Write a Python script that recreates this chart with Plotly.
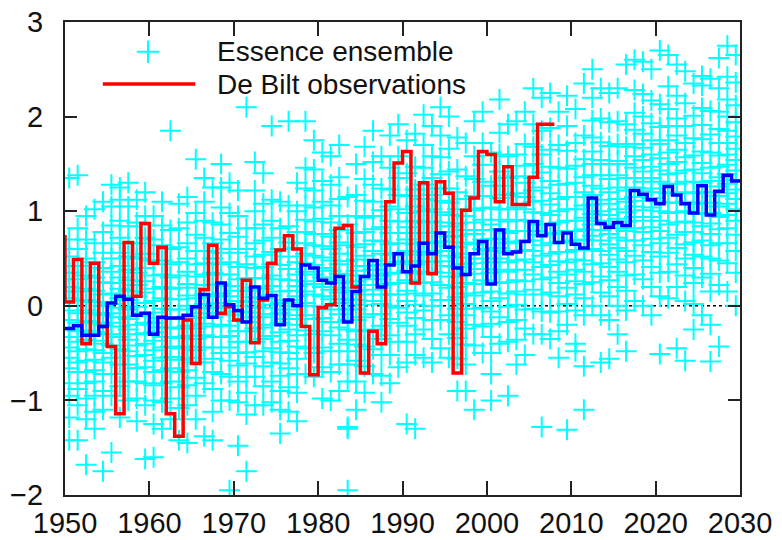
import plotly.graph_objects as go

# ---------------- data ----------------
obs_years = list(range(1949, 2008))
obs_values = [0.73, 0.04, 0.49, -0.40, 0.45, -0.22, -0.43, -1.14, 0.67, 0.10,
              0.87, 0.45, 0.62, -1.14, -1.38, -0.15, -0.61, 0.17, 0.64, -0.08,
              -0.01, -0.15, 0.27, -0.39, 0.06, 0.45, 0.59, 0.74, 0.60, -0.22,
              -0.73, -0.02, 0.01, 0.82, 0.85, 0.20, -0.71, -0.27, -0.40, 1.10,
              1.51, 1.63, 0.24, 1.30, 0.34, 1.31, 1.19, -0.71, 1.01, 1.14,
              1.63, 1.60, 1.10, 1.47, 1.07, 1.07, 1.36, 1.92, 1.92]

mean_years = list(range(1950, 2030))
mean_values = [-0.24, -0.21, -0.31, -0.31, -0.22, 0.03, 0.10, 0.07, -0.10, -0.08,
               -0.30, -0.12, -0.13, -0.13, -0.10, -0.01, 0.12, -0.12, 0.24, 0.01,
               -0.05, -0.17, 0.20, 0.08, 0.11, -0.20, 0.06, 0.00, 0.43, 0.40,
               0.27, 0.24, 0.31, -0.17, 0.15, 0.31, 0.48, 0.20, 0.43, 0.55,
               0.36, 0.42, 0.66, 0.55, 0.77, 0.62, 0.40, 0.33, 0.55, 0.68,
               0.23, 0.80, 0.55, 0.57, 0.68, 0.89, 0.74, 0.86, 0.67, 0.77,
               0.65, 0.61, 1.14, 0.87, 0.83, 0.88, 0.85, 1.22, 1.18, 1.12,
               1.08, 1.26, 1.17, 1.08, 0.98, 1.27, 0.96, 1.21, 1.38, 1.32]

ens_1950s = [
    [-1.42, -1.18, -0.95, -0.82, -0.66, -0.55, -0.44, -0.33, -0.25, -0.15, -0.05, 0.08, 0.2, 0.35, 0.52, 0.7, 1.35],
    [-1.42, -1.05, -0.88, -0.7, -0.6, -0.48, -0.38, -0.27, -0.18, -0.08, 0.05, 0.15, 0.28, 0.42, 0.6, 0.82, 1.38],
    [-1.68, -1.2, -0.98, -0.82, -0.7, -0.58, -0.46, -0.36, -0.26, -0.16, -0.05, 0.06, 0.18, 0.32, 0.5, 0.7, 0.95],
    [-1.3, -1.12, -0.95, -0.8, -0.68, -0.57, -0.47, -0.37, -0.28, -0.18, -0.08, 0.04, 0.16, 0.3, 0.46, 0.66, 1.02],
    [-1.75, -1.1, -0.9, -0.72, -0.6, -0.5, -0.4, -0.3, -0.2, -0.1, 0.0, 0.12, 0.25, 0.4, 0.56, 0.78, 1.1],
    [-1.55, -0.95, -0.72, -0.55, -0.42, -0.3, -0.18, -0.08, 0.02, 0.13, 0.24, 0.36, 0.5, 0.66, 0.85, 1.05, 1.28],
    [-1.18, -0.85, -0.62, -0.46, -0.33, -0.22, -0.12, -0.02, 0.08, 0.18, 0.3, 0.42, 0.56, 0.72, 0.9, 1.12, 1.25],
    [-1.0, -0.8, -0.62, -0.48, -0.36, -0.25, -0.14, -0.04, 0.06, 0.16, 0.27, 0.38, 0.52, 0.66, 0.84, 1.05, 1.3],
    [-1.22, -0.98, -0.8, -0.66, -0.53, -0.42, -0.3, -0.2, -0.11, -0.01, 0.1, 0.22, 0.35, 0.5, 0.66, 0.88, 1.12],
    [-1.62, -1.05, -0.82, -0.65, -0.52, -0.4, -0.29, -0.18, -0.08, 0.03, 0.14, 0.26, 0.4, 0.55, 0.72, 0.95, 1.2],
]
ens_1960s = [
    [-1.6, -1.25, -1.0, -0.84, -0.7, -0.58, -0.47, -0.37, -0.28, -0.18, -0.07, 0.05, 0.18, 0.32, 0.48, 0.7, 0.95],
    [-1.3, -1.02, -0.82, -0.68, -0.55, -0.44, -0.33, -0.23, -0.13, -0.03, 0.08, 0.2, 0.33, 0.48, 0.64, 0.85, 1.1],
    [-1.2, -0.98, -0.8, -0.66, -0.54, -0.43, -0.33, -0.23, -0.14, -0.04, 0.07, 0.18, 0.3, 0.44, 0.6, 0.8, 1.85],
    [-1.42, -1.08, -0.86, -0.7, -0.57, -0.45, -0.34, -0.24, -0.14, -0.04, 0.07, 0.19, 0.32, 0.46, 0.62, 0.82, 1.08],
    [-1.45, -1.05, -0.84, -0.68, -0.55, -0.43, -0.32, -0.21, -0.11, 0.0, 0.11, 0.23, 0.36, 0.5, 0.66, 0.88, 1.15],
    [-1.2, -0.95, -0.76, -0.6, -0.47, -0.35, -0.24, -0.13, -0.03, 0.08, 0.19, 0.31, 0.44, 0.58, 0.75, 0.98, 1.55],
    [-1.38, -0.82, -0.6, -0.44, -0.31, -0.19, -0.08, 0.02, 0.12, 0.22, 0.33, 0.45, 0.58, 0.72, 0.9, 1.1, 1.35],
    [-1.42, -1.12, -0.88, -0.7, -0.56, -0.44, -0.33, -0.22, -0.12, -0.02, 0.1, 0.22, 0.35, 0.5, 0.66, 0.88, 1.25],
    [-1.0, -0.72, -0.5, -0.33, -0.2, -0.08, 0.03, 0.13, 0.23, 0.33, 0.44, 0.56, 0.7, 0.86, 1.04, 1.25, 1.5],
    [-1.95, -1.0, -0.75, -0.58, -0.44, -0.32, -0.21, -0.1, 0.0, 0.1, 0.21, 0.33, 0.46, 0.6, 0.77, 0.98, 1.3],
]
ens_1970s = [
    [-1.48, -1.02, -0.8, -0.63, -0.5, -0.38, -0.27, -0.16, -0.06, 0.05, 0.16, 0.28, 0.41, 0.56, 0.73, 0.95, 1.22],
    [-1.75, -1.15, -0.92, -0.75, -0.61, -0.49, -0.38, -0.27, -0.17, -0.07, 0.04, 0.16, 0.29, 0.44, 0.6, 0.82, 2.1],
    [-1.05, -0.75, -0.54, -0.38, -0.24, -0.12, -0.01, 0.09, 0.19, 0.29, 0.4, 0.52, 0.66, 0.82, 1.0, 1.22, 1.52],
    [-1.05, -0.85, -0.64, -0.48, -0.35, -0.23, -0.12, -0.02, 0.08, 0.18, 0.29, 0.41, 0.54, 0.69, 0.86, 1.08, 1.4],
    [-1.02, -0.8, -0.6, -0.45, -0.32, -0.2, -0.09, 0.01, 0.11, 0.21, 0.32, 0.44, 0.57, 0.72, 0.9, 1.12, 1.9],
    [-1.35, -1.1, -0.9, -0.74, -0.61, -0.49, -0.38, -0.28, -0.18, -0.08, 0.03, 0.15, 0.28, 0.43, 0.6, 0.82, 1.1],
    [-1.12, -0.86, -0.66, -0.5, -0.37, -0.25, -0.14, -0.04, 0.06, 0.16, 0.27, 0.39, 0.52, 0.67, 0.84, 1.06, 1.95],
    [-1.22, -0.92, -0.72, -0.56, -0.43, -0.31, -0.2, -0.1, 0.0, 0.1, 0.21, 0.33, 0.46, 0.61, 0.78, 1.0, 1.3],
    [-0.72, -0.45, -0.26, -0.1, 0.03, 0.15, 0.26, 0.36, 0.45, 0.55, 0.66, 0.78, 0.91, 1.06, 1.24, 1.46, 1.95],
    [-0.75, -0.5, -0.3, -0.14, 0.0, 0.12, 0.23, 0.33, 0.43, 0.53, 0.64, 0.76, 0.89, 1.04, 1.22, 1.44, 1.75],
]
ens_1980s = [
    [-0.98, -0.65, -0.44, -0.27, -0.13, -0.01, 0.1, 0.2, 0.3, 0.4, 0.51, 0.63, 0.76, 0.92, 1.1, 1.32, 1.62],
    [-1.0, -0.7, -0.48, -0.31, -0.17, -0.04, 0.07, 0.17, 0.27, 0.37, 0.48, 0.6, 0.73, 0.88, 1.06, 1.28, 1.58],
    [-0.9, -0.62, -0.4, -0.23, -0.09, 0.03, 0.14, 0.24, 0.34, 0.44, 0.55, 0.67, 0.8, 0.95, 1.13, 1.36, 1.7],
    [-1.95, -1.3, -1.28, -0.8, -0.62, -0.48, -0.36, -0.25, -0.15, -0.04, 0.07, 0.19, 0.32, 0.47, 0.64, 0.86, 1.15],
    [-1.1, -0.8, -0.58, -0.41, -0.27, -0.15, -0.04, 0.06, 0.16, 0.26, 0.37, 0.49, 0.62, 0.77, 0.95, 1.17, 1.5],
    [-0.92, -0.64, -0.43, -0.26, -0.12, 0.01, 0.12, 0.22, 0.32, 0.42, 0.53, 0.65, 0.78, 0.93, 1.11, 1.34, 1.68],
    [-0.72, -0.46, -0.25, -0.09, 0.05, 0.17, 0.28, 0.38, 0.48, 0.58, 0.69, 0.81, 0.95, 1.1, 1.28, 1.52, 1.85],
    [-1.02, -0.74, -0.52, -0.35, -0.21, -0.09, 0.02, 0.12, 0.22, 0.32, 0.43, 0.55, 0.68, 0.83, 1.01, 1.24, 1.58],
    [-0.82, -0.52, -0.31, -0.14, 0.0, 0.12, 0.23, 0.34, 0.44, 0.54, 0.65, 0.77, 0.9, 1.05, 1.23, 1.46, 1.8],
    [-0.65, -0.38, -0.18, -0.02, 0.12, 0.24, 0.35, 0.46, 0.56, 0.66, 0.77, 0.89, 1.02, 1.17, 1.35, 1.58, 1.92],
]
ens_1990s = [
    [-1.25, -0.6, -0.38, -0.21, -0.07, 0.05, 0.16, 0.27, 0.37, 0.47, 0.58, 0.7, 0.83, 0.98, 1.16, 1.4, 1.75],
    [-1.3, -0.52, -0.3, -0.13, 0.01, 0.13, 0.24, 0.34, 0.44, 0.54, 0.65, 0.77, 0.9, 1.05, 1.23, 1.47, 1.82],
    [-0.55, -0.25, -0.05, 0.11, 0.24, 0.36, 0.47, 0.57, 0.67, 0.77, 0.88, 1.0, 1.13, 1.28, 1.46, 1.7, 2.02],
    [-0.6, -0.35, -0.15, 0.0, 0.13, 0.25, 0.36, 0.46, 0.56, 0.66, 0.77, 0.89, 1.02, 1.17, 1.35, 1.58, 1.9],
    [-0.45, -0.15, 0.06, 0.22, 0.35, 0.47, 0.58, 0.68, 0.78, 0.88, 0.99, 1.11, 1.24, 1.39, 1.57, 1.8, 2.1],
    [-0.55, -0.3, -0.1, 0.06, 0.19, 0.31, 0.42, 0.53, 0.63, 0.73, 0.84, 0.96, 1.09, 1.24, 1.42, 1.66, 2.0],
    [-0.9, -0.56, -0.34, -0.17, -0.03, 0.09, 0.2, 0.31, 0.41, 0.51, 0.62, 0.74, 0.87, 1.02, 1.2, 1.44, 1.78],
    [-0.9, -0.62, -0.41, -0.24, -0.1, 0.02, 0.13, 0.24, 0.34, 0.44, 0.55, 0.67, 0.8, 0.95, 1.13, 1.37, 1.72],
    [-1.1, -0.42, -0.2, -0.03, 0.11, 0.23, 0.34, 0.45, 0.55, 0.65, 0.76, 0.88, 1.01, 1.16, 1.34, 1.58, 1.95],
    [-0.5, -0.22, -0.02, 0.14, 0.27, 0.39, 0.5, 0.6, 0.7, 0.8, 0.91, 1.03, 1.16, 1.31, 1.49, 1.72, 2.05],
]
ens_2000s = [
    [-1.0, -0.72, -0.5, -0.33, -0.19, -0.06, 0.05, 0.15, 0.25, 0.35, 0.46, 0.58, 0.71, 0.86, 1.04, 1.27, 1.62],
    [-0.4, -0.12, 0.08, 0.24, 0.38, 0.5, 0.61, 0.71, 0.81, 0.91, 1.02, 1.14, 1.27, 1.42, 1.6, 1.83, 2.18],
    [-0.95, -0.38, -0.17, -0.01, 0.13, 0.25, 0.36, 0.46, 0.56, 0.66, 0.77, 0.89, 1.02, 1.17, 1.35, 1.58, 1.92],
    [-0.62, -0.36, -0.15, 0.01, 0.15, 0.27, 0.38, 0.48, 0.58, 0.68, 0.79, 0.91, 1.04, 1.19, 1.37, 1.6, 1.95],
    [-0.52, -0.24, -0.04, 0.12, 0.26, 0.38, 0.49, 0.59, 0.69, 0.79, 0.9, 1.02, 1.15, 1.3, 1.48, 1.71, 2.05],
    [-0.3, -0.03, 0.17, 0.33, 0.46, 0.58, 0.69, 0.79, 0.89, 0.99, 1.1, 1.22, 1.35, 1.5, 1.68, 1.92, 2.3],
    [-1.28, -0.3, -0.06, 0.12, 0.28, 0.41, 0.53, 0.64, 0.75, 0.86, 0.98, 1.11, 1.25, 1.41, 1.6, 1.85, 2.2],
    [-0.35, -0.07, 0.14, 0.3, 0.43, 0.55, 0.66, 0.76, 0.86, 0.96, 1.07, 1.19, 1.32, 1.47, 1.65, 1.88, 2.25],
    [-0.55, -0.27, -0.06, 0.1, 0.24, 0.36, 0.47, 0.57, 0.67, 0.77, 0.88, 1.0, 1.13, 1.28, 1.46, 1.7, 2.05],
    [-1.31, -0.2, 0.02, 0.19, 0.33, 0.46, 0.57, 0.68, 0.79, 0.9, 1.02, 1.15, 1.29, 1.45, 1.64, 1.9, 2.22],
]
ens_2010s = [
    [-0.48, -0.4, -0.05, 0.12, 0.26, 0.38, 0.49, 0.59, 0.69, 0.79, 0.9, 1.02, 1.15, 1.3, 1.48, 1.72, 2.08],
    [-1.1, -0.64, -0.1, 0.08, 0.23, 0.36, 0.48, 0.59, 0.7, 0.81, 0.93, 1.06, 1.2, 1.36, 1.55, 1.8, 2.35],
    [0.0, 0.25, 0.44, 0.6, 0.74, 0.86, 0.97, 1.07, 1.17, 1.27, 1.38, 1.5, 1.63, 1.78, 1.96, 2.2, 2.5],
    [-0.6, -0.1, 0.14, 0.31, 0.45, 0.58, 0.69, 0.8, 0.9, 1.0, 1.12, 1.24, 1.38, 1.54, 1.73, 1.98, 2.3],
    [-0.56, -0.15, 0.1, 0.27, 0.41, 0.54, 0.65, 0.76, 0.86, 0.96, 1.08, 1.2, 1.34, 1.5, 1.69, 1.94, 2.25],
    [-0.3, 0.0, 0.2, 0.36, 0.49, 0.61, 0.72, 0.82, 0.92, 1.02, 1.13, 1.25, 1.38, 1.53, 1.71, 1.95, 2.3],
    [-0.48, -0.05, 0.16, 0.32, 0.46, 0.58, 0.69, 0.79, 0.89, 0.99, 1.1, 1.22, 1.35, 1.5, 1.68, 1.92, 2.55],
    [0.05, 0.33, 0.53, 0.69, 0.82, 0.94, 1.05, 1.15, 1.25, 1.35, 1.46, 1.58, 1.71, 1.86, 2.04, 2.28, 2.6],
    [0.0, 0.28, 0.48, 0.64, 0.78, 0.9, 1.01, 1.11, 1.21, 1.31, 1.42, 1.54, 1.67, 1.82, 2.0, 2.24, 2.58],
    [-0.1, 0.2, 0.41, 0.57, 0.71, 0.83, 0.94, 1.04, 1.14, 1.24, 1.35, 1.47, 1.6, 1.75, 1.93, 2.17, 2.5],
]
ens_2020s = [
    [-0.51, 0.1, 0.35, 0.52, 0.66, 0.79, 0.9, 1.0, 1.1, 1.2, 1.31, 1.43, 1.56, 1.71, 1.89, 2.13, 2.7],
    [0.08, 0.36, 0.56, 0.72, 0.86, 0.98, 1.09, 1.19, 1.29, 1.39, 1.5, 1.62, 1.75, 1.9, 2.08, 2.32, 2.65],
    [-0.45, 0.2, 0.44, 0.61, 0.75, 0.88, 0.99, 1.09, 1.19, 1.29, 1.4, 1.52, 1.65, 1.8, 1.98, 2.22, 2.55],
    [-0.58, 0.05, 0.32, 0.5, 0.65, 0.78, 0.89, 1.0, 1.1, 1.2, 1.31, 1.43, 1.57, 1.72, 1.9, 2.14, 2.48],
    [-0.25, 0.02, 0.24, 0.4, 0.54, 0.67, 0.78, 0.88, 0.98, 1.08, 1.19, 1.31, 1.44, 1.59, 1.77, 2.01, 2.35],
    [-0.1, 0.3, 0.52, 0.69, 0.84, 0.97, 1.09, 1.2, 1.3, 1.4, 1.51, 1.63, 1.76, 1.91, 2.09, 2.33, 2.43],
    [-0.59, -0.2, 0.15, 0.34, 0.5, 0.64, 0.76, 0.87, 0.98, 1.09, 1.2, 1.32, 1.46, 1.62, 1.81, 2.06, 2.4],
    [-0.43, 0.22, 0.48, 0.66, 0.81, 0.94, 1.05, 1.16, 1.26, 1.36, 1.47, 1.59, 1.72, 1.87, 2.05, 2.3, 2.62],
    [0.15, 0.45, 0.66, 0.82, 0.96, 1.08, 1.19, 1.29, 1.39, 1.49, 1.6, 1.72, 1.85, 2.0, 2.18, 2.42, 2.75],
    [0.0, 0.35, 0.58, 0.75, 0.9, 1.02, 1.13, 1.23, 1.33, 1.43, 1.54, 1.66, 1.79, 1.94, 2.12, 2.36, 2.65],
]

x_ticks = [1950, 1960, 1970, 1980, 1990, 2000, 2010, 2020, 2030]
y_ticks = [-2, -1, 0, 1, 2, 3]
legend_labels = ["Essence ensemble", "De Bilt observations"]

# ---------------- build ----------------
ens_rows = ens_1950s + ens_1960s + ens_1970s + ens_1980s + ens_1990s + ens_2000s + ens_2010s + ens_2020s
ens_x, ens_y = [], []
for yr, row in zip(mean_years, ens_rows):
    for v in row:
        ens_x.append(yr + 0.5)
        ens_y.append(v)

FONT = "Liberation Sans, Arial, sans-serif"
CYAN = "#00ffff"

fig = go.Figure()

fig.add_trace(go.Scatter(
    x=ens_x, y=ens_y, mode="markers", name=legend_labels[0],
    marker=dict(symbol="cross-thin", size=15, color=CYAN,
                line=dict(color=CYAN, width=2)),
    showlegend=False, cliponaxis=True,
))

fig.add_trace(go.Scatter(
    x=obs_years + [obs_years[-1] + 1], y=obs_values + [obs_values[-1]],
    mode="lines", line=dict(color="#ff0000", width=3.5, shape="hv"),
    name=legend_labels[1], showlegend=False,
))

fig.add_trace(go.Scatter(
    x=mean_years + [mean_years[-1] + 1], y=mean_values + [mean_values[-1]],
    mode="lines", line=dict(color="#0000ff", width=3.5, shape="hv"),
    name="ensemble mean", showlegend=False,
))

# legend key (cross) drawn on an overlay paper-like axis
fig.add_trace(go.Scatter(
    x=[0.123], y=[0.937], xaxis="x2", yaxis="y2", mode="markers",
    marker=dict(symbol="cross-thin", size=16, color=CYAN, line=dict(color=CYAN, width=2)),
    showlegend=False, hoverinfo="skip",
))

axis_common = dict(
    showline=True, linecolor="#222", linewidth=2, mirror="ticks",
    ticks="inside", tickcolor="#222", tickwidth=2,
    showgrid=False, zeroline=False, automargin=False,
    tickfont=dict(family=FONT, size=29, color="#111"),
)

fig.update_layout(
    width=782, height=540,
    margin=dict(l=65, r=42, t=22, b=45, autoexpand=False),
    paper_bgcolor="white", plot_bgcolor="white",
    xaxis=dict(range=[1950, 2030], tickvals=x_ticks, ticklen=14,
               ticklabelstandoff=1, **axis_common),
    yaxis=dict(range=[-2, 3], tickvals=y_ticks, ticklen=12,
               ticklabelstandoff=14, **axis_common),
    xaxis2=dict(range=[0, 1], overlaying="x", visible=False, fixedrange=True),
    yaxis2=dict(range=[0, 1], overlaying="y", visible=False, fixedrange=True),
    shapes=[
        dict(type="line", xref="paper", x0=0, x1=1, yref="y", y0=0, y1=0,
             line=dict(color="black", width=1.5, dash="dot"), layer="below"),
        dict(type="line", xref="paper", x0=0.056, x1=0.193, yref="paper", y0=0.869, y1=0.869,
             line=dict(color="#ff0000", width=3.5)),
    ],
    annotations=[
        dict(text=legend_labels[0], xref="paper", yref="paper", x=0.222, y=0.938,
             xanchor="left", yanchor="middle", showarrow=False,
             font=dict(family=FONT, size=28, color="#111")),
        dict(text=legend_labels[1], xref="paper", yref="paper", x=0.222, y=0.867,
             xanchor="left", yanchor="middle", showarrow=False,
             font=dict(family=FONT, size=28, color="#111")),
    ],
)

fig.write_html("out.html")
